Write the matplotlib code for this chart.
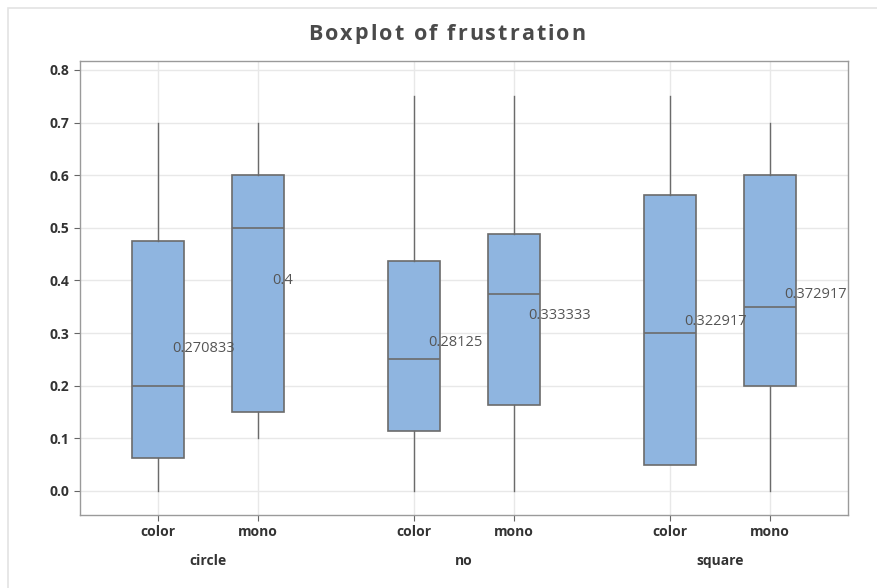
import matplotlib
matplotlib.use("Agg")
import matplotlib.pyplot as plt
from matplotlib.patches import Rectangle

plt.rcParams['font.family'] = ['Open Sans', 'DejaVu Sans']

groups = ["circle", "no", "square"]
colors = ["color", "mono"]

# five-number summaries per (group, color) in order circle/color, circle/mono, no/color, ...
whisk_lo = [0.0, 0.10, 0.0, 0.0, 0.05, 0.0]
q1 = [0.0625, 0.15, 0.114583, 0.1625, 0.05, 0.20]
medians = [0.20, 0.50, 0.25, 0.375, 0.30, 0.35]
q3 = [0.475, 0.60, 0.4375, 0.4875, 0.5625, 0.60]
whisk_hi = [0.70, 0.70, 0.75, 0.75, 0.75, 0.70]
means = [0.270833, 0.4, 0.28125, 0.333333, 0.322917, 0.372917]
mean_labels = ["0.270833", "0.4", "0.28125", "0.333333", "0.322917", "0.372917"]

yticks = [0.0, 0.1, 0.2, 0.3, 0.4, 0.5, 0.6, 0.7, 0.8]
title = "Boxplot of frustration"

W, H = 878, 588
fig = plt.figure(figsize=(W / 100, H / 100), dpi=100)
fig.patch.set_facecolor("white")
fig.patches.append(Rectangle((8 / W, -0.1), 1.2, 1 - 8 / H + 0.1,
                             transform=fig.transFigure, fill=False,
                             edgecolor="#e3e3e3", linewidth=1.2))

ax = fig.add_axes([80 / W, 1 - 515 / H, 768 / W, 454 / H])

offset = 0.195
width = 0.203
positions = []
for gi in range(len(groups)):
    for ci in range(len(colors)):
        positions.append(gi + (offset if ci else -offset))

stats = []
for i in range(len(positions)):
    stats.append(dict(whislo=whisk_lo[i], q1=q1[i], med=medians[i],
                      q3=q3[i], whishi=whisk_hi[i], fliers=[]))

edge = "#6b6b6b"
ax.bxp(stats, positions=positions, widths=width, patch_artist=True,
       showcaps=False, showfliers=False,
       boxprops=dict(facecolor="#8fb5e0", edgecolor=edge, linewidth=1.2),
       medianprops=dict(color=edge, linewidth=1.2),
       whiskerprops=dict(color=edge, linewidth=1.0), zorder=3)

for x, m, lab in zip(positions, means, mean_labels):
    ax.text(x + 0.055, m, lab, ha="left", va="center", fontsize=10.5,
            color="#555555", zorder=4)

ax.set_xlim(-0.5, 2.5)
ax.set_ylim(-0.0456, 0.817)
ax.set_yticks(yticks)
ax.set_yticklabels([f"{v:.1f}" for v in yticks], fontweight="bold",
                   fontsize=10, color="#333333")
ax.set_xticks(positions)
ax.set_xticklabels(colors * len(groups), fontweight="bold", fontsize=10,
                   color="#333333")
ax.tick_params(axis="both", length=4, color="#666666", width=0.8)
ax.tick_params(axis="x", pad=3)

for gi, g in enumerate(groups):
    ax.text(gi, -0.133, g, ha="center", va="center", fontsize=10,
            fontweight="bold", color="#333333",
            transform=ax.transData, clip_on=False)

ax.grid(True, color="#e8e8e8", linewidth=1.0, zorder=0)
ax.set_axisbelow(True)
for s in ax.spines.values():
    s.set_color("#9a9a9a")
    s.set_linewidth(1.0)

# letter-spaced title, drawn one glyph at a time
renderer = fig.canvas.get_renderer()
tracking = 2.0  # extra pixels between glyphs
tkw = dict(fontsize=15.5, fontweight="bold", color="#4a4a4a", va="center")
widths = []
for ch in title:
    t = fig.text(0, 0, ch if ch != " " else "a", **tkw)
    widths.append(t.get_window_extent(renderer).width * (0.45 if ch == " " else 1.0))
    t.remove()
total = sum(widths) + tracking * (len(title) - 1)
xpix = 447 - total / 2
for ch, w in zip(title, widths):
    if ch != " ":
        fig.text(xpix / W, 1 - 34 / H, ch, ha="left", **tkw)
    xpix += w + tracking

fig.savefig("out.png", dpi=100)
